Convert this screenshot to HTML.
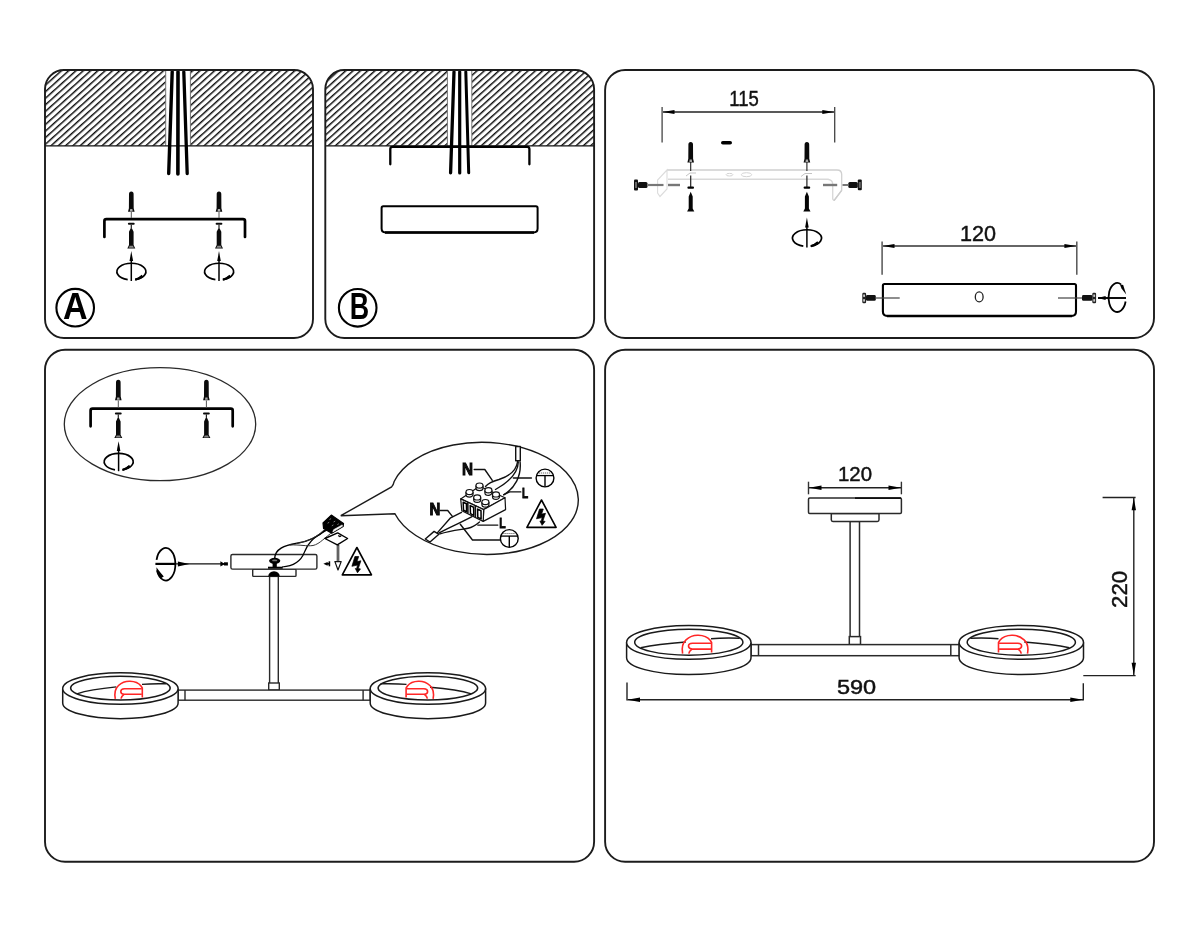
<!DOCTYPE html>
<html><head><meta charset="utf-8">
<style>
html,body{margin:0;padding:0;background:#fff;}
body{width:1200px;height:933px;overflow:hidden;font-family:"Liberation Sans",sans-serif;}
svg{display:block;position:absolute;left:0;top:0;will-change:transform;}
.f{fill:none;stroke:#1c1c1c;stroke-width:1.9;}
.k{fill:none;stroke:#000;}
.t{font-family:"Liberation Sans",sans-serif;fill:#111;stroke:#111;stroke-width:0.45;}
</style></head><body>
<svg width="1200" height="933" viewBox="0 0 1200 933">
<defs>
<pattern id="h" patternUnits="userSpaceOnUse" width="20" height="4.88" patternTransform="translate(46.5 70) rotate(-42)">
<rect x="0" y="0" width="20" height="1.45" fill="#0a0a0a"/>
</pattern>
<clipPath id="ca"><rect x="45" y="70" width="268" height="268" rx="19"/></clipPath>
<clipPath id="cb"><rect x="325.3" y="70" width="268.8" height="268" rx="19"/></clipPath>
<!-- plug (wall anchor) pointing up: origin at centre-x, top y=0, total height ~20 -->
<g id="plug">
<path d="M-2.3,2 Q-2.3,-0.6 0,-0.6 Q2.3,-0.6 2.3,2 L2.4,16.2 L3.3,19.8 L-3.3,19.8 L-2.4,16.2 Z" fill="#0a0a0a"/>
<path d="M-1.1,17 L1.1,17 L1.4,19.4 L-1.4,19.4Z" fill="#aaa"/>
</g>
<!-- screw, head at bottom: origin centre-x, y=0 top of washer -->
<g id="scr">
<rect x="-3.4" y="-1" width="6.8" height="2" rx="1" fill="#0a0a0a"/>
<rect x="-0.6" y="1" width="1.2" height="4" fill="#222"/>
<path d="M-0.7,4.6 L0.7,4.6 L2.3,8 L2.3,21.3 L4,24.6 L-4,24.6 L-2.3,21.3 L-2.3,8 Z" fill="#0a0a0a"/>
<path d="M-1.6,22 L1.6,22 L2.6,24 L-2.6,24 Z" fill="#888"/>
</g>
<!-- rotate-arrow (vertical shaft up through horizontal ellipse). origin = ellipse centre -->
<g id="rot">
<path d="M3.8,8.2 A14.5,8.3 0 1 0 -3.6,8.2" fill="none" stroke="#000" stroke-width="1.7"/>
<path d="M3.2,8.9 L10.5,3.4 L11.8,6.2 Z" fill="#000"/>
<path d="M4,8.3 Q9,7 11.3,4.6" fill="none" stroke="#000" stroke-width="2.4"/>
<line x1="0" y1="-14" x2="0" y2="9.6" stroke="#000" stroke-width="1.5"/>
<path d="M0,-20.3 L1.8,-10.5 L-1.8,-10.5 Z" fill="#000"/>
</g>

<!-- warning triangle: origin apex, height 27.5, half-base 14.6 -->
<g id="warn">
<path d="M0,0 L14.6,27.4 L-14.6,27.4 Z" fill="#fff" stroke="#000" stroke-width="1.6" stroke-linejoin="round"/>
<path d="M-2,9 L1.8,9 L0.1,14.1 L4,13.3 L1.4,21 L3.6,21.4 L0.6,25.3 L-1.6,21 L-0.3,21.2 L0.6,17.6 L-5,18.8 Z" fill="#000" stroke="#000" stroke-width="0.7" stroke-linejoin="round"/>
</g>
<!-- earth symbol in circle: origin centre, r=9 -->
<g id="earth">
<circle cx="0" cy="0" r="8.9" fill="#fff" stroke="#000" stroke-width="1.4"/>
<line x1="-8.3" y1="-2.4" x2="8.3" y2="-2.4" stroke="#000" stroke-width="1.3"/>
<line x1="-6" y1="-5" x2="6" y2="-5" stroke="#555" stroke-width="0.9" stroke-dasharray="1.2 0.8"/>
<line x1="0" y1="-2.4" x2="0" y2="8.6" stroke="#000" stroke-width="1.4"/>
</g>
<!-- lamp ring: origin = centre of top ellipse -->
<g id="ring">
<path d="M-57.7,0 L-57.7,14.3 A57.7,15.75 0 0 0 0,30.05 A57.7,15.75 0 0 0 57.7,14.3 L57.7,0" fill="#fff" stroke="#1a1a1a" stroke-width="1.5"/>
<ellipse cx="0" cy="0" rx="57.7" ry="15.75" fill="#fff" stroke="#1a1a1a" stroke-width="1.5"/>
<ellipse cx="0" cy="-0.5" rx="49.8" ry="11.9" fill="#fff" stroke="#1a1a1a" stroke-width="1.5"/>
</g>

<g id="ringE">
<path d="M-62.2,0 L-62.2,15.3 A62.2,16.9 0 0 0 0,32.2 A62.2,16.9 0 0 0 62.2,15.3 L62.2,0" fill="#fff" stroke="#1a1a1a" stroke-width="1.5"/>
<ellipse cx="0" cy="0" rx="62.2" ry="16.9" fill="#fff" stroke="#1a1a1a" stroke-width="1.5"/>
<ellipse cx="0" cy="-0.2" rx="54.1" ry="13" fill="#fff" stroke="#1a1a1a" stroke-width="1.5"/>
</g>
</defs>

<!-- ============ PANEL A ============ -->
<g id="panelA">
<g clip-path="url(#ca)">
<rect x="45" y="70" width="268" height="75.8" fill="url(#h)"/>
<rect x="165.5" y="70" width="25" height="75.8" fill="#fff"/>
<line x1="165.7" y1="70" x2="165.7" y2="145.8" stroke="#666" stroke-width="0.9"/>
<line x1="190.4" y1="70" x2="190.4" y2="145.8" stroke="#666" stroke-width="0.9"/>
</g>
<line x1="45" y1="145.9" x2="313" y2="145.9" stroke="#111" stroke-width="1.3"/>
<path d="M172.2,71.8 L168.7,173.5" stroke="#000" stroke-width="3.4" fill="none" stroke-linecap="round"/>
<path d="M178,71.8 L177.9,174" stroke="#000" stroke-width="3.6" fill="none" stroke-linecap="round"/>
<path d="M183.8,71.8 L187.2,173.5" stroke="#000" stroke-width="3.3" fill="none" stroke-linecap="round"/>
<rect class="f" x="45" y="70" width="268" height="268" rx="19"/>
<!-- bracket -->
<path d="M104.4,237 L104.4,221 Q104.4,219.1 106.4,219.1 L243,219.1 Q245,219.1 245,221 L245,237" class="k" stroke-width="2.7" stroke-linecap="round"/>
<use href="#plug" x="131.3" y="192"/>
<use href="#plug" x="219" y="192"/>
<line x1="131.3" y1="212" x2="131.3" y2="218" stroke="#555" stroke-width="1"/>
<line x1="219" y1="212" x2="219" y2="218" stroke="#555" stroke-width="1"/>
<use href="#scr" x="131.3" y="223.8"/>
<use href="#scr" x="219" y="223.8"/>
<use href="#rot" x="131.3" y="271.4"/>
<use href="#rot" x="219" y="271.4"/>
<!-- circled A -->
<circle cx="75.2" cy="307.7" r="18.8" fill="none" stroke="#000" stroke-width="2.1"/>
<text x="75.3" y="318.9" font-family="Liberation Sans" font-weight="bold" font-size="36.6" text-anchor="middle" textLength="24.6" lengthAdjust="spacingAndGlyphs" fill="#000">A</text>
</g>

<!-- ============ PANEL B ============ -->
<g id="panelB">
<g clip-path="url(#cb)">
<rect x="325.3" y="70" width="268.8" height="75.8" fill="url(#h)"/>
<rect x="447.2" y="70" width="24.8" height="75.8" fill="#fff"/>
<line x1="447.4" y1="70" x2="447.4" y2="145.8" stroke="#666" stroke-width="0.9"/>
<line x1="471.8" y1="70" x2="471.8" y2="145.8" stroke="#666" stroke-width="0.9"/>
</g>
<line x1="325.3" y1="145.9" x2="594.1" y2="145.9" stroke="#111" stroke-width="1.3"/>
<path d="M390.3,164.3 L390.3,149 Q390.3,146.8 392.5,146.8 L527.2,146.8 Q529.4,146.8 529.4,149 L529.4,164.3" class="k" stroke-width="2.3" stroke-linecap="round"/>
<path d="M454,71.8 L450.6,172.8" stroke="#000" stroke-width="3.3" fill="none" stroke-linecap="round"/>
<path d="M459.7,71.8 L459.7,173" stroke="#000" stroke-width="3.2" fill="none" stroke-linecap="round"/>
<path d="M465.8,71.8 L468.7,172.8" stroke="#000" stroke-width="3" fill="none" stroke-linecap="round"/>
<rect class="f" x="325.3" y="70" width="268.8" height="268" rx="19"/>
<!-- canopy -->
<path d="M383.3,206.2 L535.9,206.2 Q537.6,206.2 537.6,208 L537.6,228.5 Q537.6,232.4 533.6,232.4 L385.6,232.4 Q381.6,232.4 381.6,228.5 L381.6,208 Q381.6,206.2 383.3,206.2 Z" class="k" stroke-width="2" />
<line x1="385" y1="232.6" x2="534" y2="232.6" stroke="#000" stroke-width="2.5"/>
<!-- circled B -->
<circle cx="357.7" cy="307.8" r="18.8" fill="none" stroke="#000" stroke-width="2.1"/>
<text x="359.4" y="318.9" font-family="Liberation Sans" font-weight="bold" font-size="36" text-anchor="middle" textLength="19.4" lengthAdjust="spacingAndGlyphs" fill="#000">B</text>
</g>

<!-- ============ PANEL C ============ -->
<g id="panelC">
<rect class="f" x="605.1" y="70" width="548.9" height="268" rx="20"/>
<!-- dimension 115 -->
<line x1="662.1" y1="106.9" x2="662.1" y2="142.6" stroke="#444" stroke-width="1.3"/>
<line x1="834.7" y1="106.9" x2="834.7" y2="142.6" stroke="#444" stroke-width="1.3"/>
<line x1="663" y1="112" x2="834" y2="112" stroke="#222" stroke-width="1.3"/>
<path d="M662.6,112 L674.5,110 L674.5,114 Z M834.2,112 L822.3,110 L822.3,114 Z" fill="#000"/>
<text class="t" x="744" y="105.6" font-size="22" text-anchor="middle" textLength="29.5" lengthAdjust="spacingAndGlyphs">115</text>
<!-- pill -->
<rect x="721" y="141" width="11" height="3.6" rx="1.8" fill="#000"/>
<!-- light bracket -->
<g fill="none" stroke="#cdcdcd" stroke-width="1.4">
<path d="M667,170 L837,170 Q841.7,170 841.7,174.5 L841.7,190.3 L834,200.6" stroke="#d0d0d0" stroke-width="1.3"/>
<path d="M668,179.3 L828,179.3 Q832.5,180 832.7,184 L832.7,199 L834,200.6" stroke="#d9d9d9"/>
<path d="M667,170 L657.6,180 L657.6,193 L660,196.5 L667,189 Z" stroke="#dcdcdc" stroke-width="1.1"/>
<path d="M841.7,190.3 L834,200.6" />
<ellipse cx="729.5" cy="174.7" rx="3.4" ry="1.3" stroke="#d4d4d4" stroke-width="1"/>
<ellipse cx="746.5" cy="174.7" rx="5.2" ry="2" stroke="#d4d4d4" stroke-width="1"/>
<path d="M686,176 L690,173 L696,173 M801,176.5 L805,173.5 L812,173.5" stroke="#c4c4c4" stroke-width="1"/>
</g>
<!-- vertical plug/screw sets -->
<use href="#plug" x="690.7" y="142.6" transform=""/>
<use href="#plug" x="806.9" y="142.6"/>
<line x1="690.7" y1="162" x2="690.7" y2="171" stroke="#222" stroke-width="1.1"/>
<line x1="690.7" y1="175.5" x2="690.7" y2="187" stroke="#222" stroke-width="1.2"/>
<line x1="806.9" y1="162" x2="806.9" y2="171" stroke="#222" stroke-width="1.1"/>
<line x1="806.9" y1="175.5" x2="806.9" y2="187" stroke="#222" stroke-width="1.2"/>
<rect x="687.4" y="186.6" width="6.6" height="2.2" rx="1" fill="#000"/>
<rect x="803.6" y="186.6" width="6.6" height="2.2" rx="1" fill="#000"/>
<g id="lscr">
<path d="M690.7,191.8 L692.7,196.5 L692.7,208.6 L694.3,211.4 L687.1,211.4 L688.7,208.6 L688.7,196.5 Z" fill="#050505"/>
</g>
<path d="M806.9,191.8 L808.9,196.5 L808.9,208.6 L810.5,211.4 L803.3,211.4 L804.9,208.6 L804.9,196.5 Z" fill="#050505"/>
<use href="#rot" x="806.9" y="237.9"/>
<!-- side screws -->
<g>
<rect x="634" y="179.6" width="4" height="10.8" rx="1" fill="#111"/>
<rect x="635" y="182" width="2" height="6" fill="#666"/>
<rect x="638" y="182" width="9.5" height="6" rx="1.5" fill="#111"/>
<line x1="647.5" y1="185" x2="663.5" y2="185" stroke="#777" stroke-width="2.2"/>
<line x1="668" y1="185" x2="680" y2="185" stroke="#777" stroke-width="2.4"/>
</g>
<g>
<rect x="857.8" y="179.5" width="4" height="10.8" rx="1" fill="#111"/>
<rect x="858.8" y="182" width="2" height="6" fill="#666"/>
<rect x="848.3" y="182" width="9.5" height="6" rx="1.5" fill="#111"/>
<line x1="842.5" y1="185" x2="848.3" y2="185" stroke="#777" stroke-width="2"/>
<line x1="823" y1="185" x2="837.2" y2="185" stroke="#777" stroke-width="2.4"/>
</g>
<!-- dimension 120 -->
<line x1="882.1" y1="241.5" x2="882.1" y2="274.8" stroke="#555" stroke-width="1.5"/>
<line x1="1076.8" y1="241.5" x2="1076.8" y2="274.8" stroke="#555" stroke-width="1.5"/>
<line x1="883" y1="246" x2="1076" y2="246" stroke="#333" stroke-width="1.3"/>
<path d="M882.6,246 L894.5,244 L894.5,248 Z M1076.3,246 L1064.4,244 L1064.4,248 Z" fill="#000"/>
<text class="t" x="978" y="240.7" font-size="21.5" text-anchor="middle" textLength="36" lengthAdjust="spacingAndGlyphs">120</text>
<!-- box -->
<path d="M884.5,284 L1074.4,284 Q1076,284 1076,285.6 L1076,311.5 Q1076,315.9 1071.6,315.9 L887.3,315.9 Q882.9,315.9 882.9,311.5 L882.9,285.6 Q882.9,284 884.5,284 Z" fill="none" stroke="#000" stroke-width="2.1"/>
<line x1="887" y1="316.1" x2="1072" y2="316.1" stroke="#000" stroke-width="2.4"/>
<ellipse cx="979.2" cy="296.9" rx="3.9" ry="5" fill="none" stroke="#222" stroke-width="1.3"/>
<!-- box screws -->
<rect x="862.3" y="292.7" width="3.8" height="10.6" rx="1.2" fill="#222"/>
<rect x="863.2" y="294.5" width="1.8" height="2.4" fill="#ccc"/><rect x="863.2" y="299.2" width="1.8" height="2.4" fill="#ccc"/>
<rect x="866" y="295" width="9.8" height="5.8" rx="1.4" fill="#111"/>
<line x1="875.7" y1="298" x2="899.7" y2="298" stroke="#444" stroke-width="1.2"/>
<line x1="1058" y1="298" x2="1082" y2="298" stroke="#444" stroke-width="1.2"/>
<rect x="1082" y="295" width="10.4" height="5.8" rx="1.4" fill="#111"/>
<rect x="1092.3" y="292.7" width="3.8" height="10.6" rx="1.2" fill="#222"/>
<rect x="1093.3" y="294.5" width="1.8" height="2.4" fill="#ccc"/><rect x="1093.3" y="299.2" width="1.8" height="2.4" fill="#ccc"/>
<!-- rotate symbol (horizontal axis) -->
<line x1="1098" y1="298" x2="1126" y2="298" stroke="#000" stroke-width="1.9"/>
<path d="M1097.6,298 L1105.6,296 L1105.6,300 Z" fill="#000"/>
<path d="M1125.6,301.5 A8.7,14.5 0 1 1 1121,284.4" fill="none" stroke="#000" stroke-width="1.8"/>
<path d="M1119.8,284.2 L1123.2,285 L1126.2,294.6 L1121.5,288.5 Z" fill="#000"/>
</g>

<!-- ============ PANEL D ============ -->
<g id="panelD">
<rect class="f" x="45" y="349.8" width="549.1" height="511.9" rx="20"/>
<!-- inset ellipse with bracket -->
<ellipse cx="160" cy="424.2" rx="95.7" ry="56.5" fill="none" stroke="#2a2a2a" stroke-width="1.3"/>
<path d="M90.6,426.3 L90.6,410.6 Q90.6,408.7 92.5,408.7 L230.8,408.7 Q232.7,408.7 232.7,410.6 L232.7,426.3" class="k" stroke-width="2.7" stroke-linecap="round"/>
<use href="#plug" x="118.3" y="380.4"/>
<use href="#plug" x="206.4" y="380.4"/>
<line x1="118.3" y1="400.5" x2="118.3" y2="407.5" stroke="#555" stroke-width="1"/>
<line x1="206.4" y1="400.5" x2="206.4" y2="407.5" stroke="#555" stroke-width="1"/>
<use href="#scr" x="118.3" y="413.4"/>
<use href="#scr" x="206.4" y="413.4"/>
<use href="#rot" x="118.6" y="461.6"/>

<!-- speech balloon -->
<path d="M391.6,486.9 Q393.6,484.6 394.3,481.2 A93.9,56 1.5 1 1 394.9,513.7 L340.8,515.7 Z" fill="#fff" stroke="#1a1a1a" stroke-width="1.4" stroke-linejoin="miter"/>
<!-- balloon contents -->
<g fill="none" stroke="#111" stroke-width="1.4" stroke-linecap="round" stroke-linejoin="round">
<!-- upper cable -->
<rect x="515.7" y="446.5" width="4.6" height="14.2" fill="#fff"/>
<path d="M517.6,461.5 C516.5,470 510,476 499,479.5 C492,481.5 488,483.5 485.5,486.5"/>
<path d="M518.3,462 C518,473 509,482 495.5,489.5"/>
<path d="M520.1,462 C521.5,476 515,488 503.7,494.8"/>
<!-- lower cable -->
<path d="M425.3,539 L434.1,531.4 L438.9,534.3 L430,542 Z" fill="#fff"/>
<path d="M437.5,532.6 L450.6,517.8 L461.5,512.3"/>
<path d="M438.9,533.1 C446,529 458,524 472,516.6"/>
<path d="M440,533.9 C450,530.5 462,529.5 468,528.3 C473,527.3 476,525 479.5,522"/>
<!-- leaders -->
<path d="M474.2,469.5 L484.8,469.5 L492.3,480.3"/>
<path d="M520.8,491.9 L509.6,491.9 L503.9,494.6"/>
<path d="M531.4,478 L513.4,478"/>
<path d="M440.2,510.5 L447.7,510.5 L452.4,516.4"/>
<path d="M497.8,525.1 L477.8,525.1"/>
<path d="M500,540 L472.5,540 L460.3,524.3"/>
</g>
<!-- terminal block -->
<g stroke="#111" stroke-width="1.2" stroke-linejoin="round">
<path d="M460.7,498.9 L479.5,486.3 L505,497.8 L483.7,509.6 Z" fill="#fff"/>
<path d="M483.7,509.6 L505,497.8 L505.6,509.6 L483.2,521.4 Z" fill="#fff"/>
<path d="M460.7,498.9 L483.7,509.6 L483.2,521.4 L461.8,510.7 Z" fill="#fff"/>
<path d="M463.2,502.3 L466.4,503.8 L466.6,511.7 L463.5,510.2 Z M470.2,505.6 L473.6,507.2 L473.8,515.3 L470.5,513.7 Z M477.6,509.1 L481,510.7 L481.1,518.9 L477.8,517.3 Z" fill="#fff" stroke="#000" stroke-width="1.5"/>
<path d="M467.8,502.2 L467.9,513.6 M475.3,505.7 L475.4,517.3" stroke-width="1.6"/>
<g fill="#fff" stroke-width="1.2">
<path d="M476.0,485.6 v2.4 a3.5,2.6 0 0 0 7,0 v-2.4"/><ellipse cx="479.5" cy="485.6" rx="3.5" ry="2.6"/>
<path d="M466.0,492.1 v2.4 a3.5,2.6 0 0 0 7,0 v-2.4"/><ellipse cx="469.5" cy="492.1" rx="3.5" ry="2.6"/>
<path d="M484.9,490.3 v2.4 a3.5,2.6 0 0 0 7,0 v-2.4"/><ellipse cx="488.4" cy="490.3" rx="3.5" ry="2.6"/>
<path d="M473.7,497.4 v2.4 a3.5,2.6 0 0 0 7,0 v-2.4"/><ellipse cx="477.2" cy="497.4" rx="3.5" ry="2.6"/>
<path d="M492.5,494.4 v2.4 a3.5,2.6 0 0 0 7,0 v-2.4"/><ellipse cx="496" cy="494.4" rx="3.5" ry="2.6"/>
<path d="M481.9,502.1 v2.4 a3.5,2.6 0 0 0 7,0 v-2.4"/><ellipse cx="485.4" cy="502.1" rx="3.5" ry="2.6"/>
</g>
</g>
<text class="t" x="467.5" y="474.8" font-size="16" font-weight="bold" text-anchor="middle" textLength="11" lengthAdjust="spacingAndGlyphs" fill="#000" style="stroke:#000;stroke-width:0.9">N</text>
<text class="t" x="434.8" y="514.9" font-size="16" font-weight="bold" text-anchor="middle" textLength="10.8" lengthAdjust="spacingAndGlyphs" fill="#000" style="stroke:#000;stroke-width:0.9">N</text>
<text class="t" x="525" y="497.8" font-size="15" font-weight="bold" text-anchor="middle" textLength="6.2" lengthAdjust="spacingAndGlyphs" fill="#000" style="stroke:#000;stroke-width:0.8">L</text>
<text class="t" x="502.4" y="527.8" font-size="15" font-weight="bold" text-anchor="middle" textLength="6.4" lengthAdjust="spacingAndGlyphs" fill="#000" style="stroke:#000;stroke-width:0.8">L</text>
<use href="#earth" x="545" y="478"/>
<use href="#earth" x="509.3" y="538.5"/>
<use href="#warn" x="541.5" y="500"/>

<!-- rotate symbol + arrow to canopy -->
<path d="M156.56,559.8 A9.6,16.25 0 1 1 156.9,570.4" fill="none" stroke="#000" stroke-width="1.8"/>
<path d="M156.4,567.2 L156.6,570 L158,574.4 L160.6,578.6 L163.8,576.6 L160.4,572.6 Z" fill="#000"/>
<line x1="155.4" y1="563.9" x2="176" y2="563.9" stroke="#000" stroke-width="2.2"/>
<line x1="176" y1="563.9" x2="226" y2="563.9" stroke="#111" stroke-width="1.4"/>
<path d="M177.9,561.4 L189.4,563.9 L177.9,566.4 Z" fill="#000"/>
<path d="M220.4,561.3 L225,563.9 L220.4,566.5 Z" fill="#000"/><rect x="224" y="562.3" width="3.9" height="3.2" fill="#000"/>

<!-- fixture -->
<g fill="#fff" stroke="#2a2a2a" stroke-width="1.4">
<rect x="269.6" y="576.4" width="8.7" height="113.5"/>
<rect x="268.7" y="683" width="10.6" height="7"/>
<rect x="178" y="690.1" width="192.3" height="10.1"/>
<line x1="185" y1="690.1" x2="185" y2="700.2"/><line x1="363.1" y1="690.1" x2="363.1" y2="700.2"/>
<rect x="252.7" y="569.1" width="43.3" height="7.3" rx="0.8"/>
<rect x="230.9" y="554.5" width="86" height="14.6" rx="1.6"/>
</g>
<use href="#ring" x="120.4" y="688.6"/>
<use href="#ring" x="427.9" y="688.6"/>
<!-- inner back-wall curves -->
<path d="M166.3,683.8 C158,683.6 148,683.8 142,684.4 M116.3,686.9 C100,688.5 86,690.8 76.9,693.8" fill="none" stroke="#1a1a1a" stroke-width="1.4"/>
<path d="M380.6,683.8 C390,683.6 400,683.8 406.5,684.4 M430,687.3 C448,688.7 462,690.8 471.3,693.8" fill="none" stroke="#1a1a1a" stroke-width="1.4"/>
<!-- red lamps -->
<g fill="none" stroke="#ff2626" stroke-width="1.6">
<path d="M115.3,698.9 Q113.6,690 118.5,685.5 Q123.5,681 130,681.3 Q137.5,681.5 141,686 L142.3,688 L142.3,697.6"/>
<path d="M141.8,688.8 L124.5,688.8 Q120.8,689 120.8,691.4 Q120.8,693.8 124,694.3 L141.8,694.3"/>
<path d="M124,694.3 Q121.5,696 121,698.6"/>
<path d="M433.1,698.9 Q434.8,690 429.9,685.5 Q424.9,681 418.4,681.3 Q410.9,681.5 407.4,686 L406.1,688 L406.1,697.6"/>
<path d="M406.6,688.8 L423.9,688.8 Q427.6,689 427.6,691.4 Q427.6,693.8 424.4,694.3 L406.6,694.3"/>
<path d="M424.4,694.3 Q426.9,696 427.4,698.6"/>
</g>
<!-- nut, dome, wires -->
<path d="M268.2,576.4 Q268.6,571.4 274,571.2 Q279.4,571.4 279.8,576.4 Z" fill="#000"/>
<rect x="268" y="566.7" width="14.7" height="2" fill="#000"/>
<ellipse cx="274.7" cy="560.8" rx="5.6" ry="3" fill="#000"/>
<rect x="272.6" y="562" width="4.2" height="5" fill="#000"/>
<ellipse cx="274.7" cy="560.4" rx="2.6" ry="0.9" fill="#777"/>
<g fill="none" stroke="#000" stroke-width="1.2">
<path d="M274.7,558.5 C275,549 284,545.5 297,543.3 C309,541.3 318,537 326,529.5" stroke-width="1.5"/>
<path d="M282,567 C296,566 301.5,560 304.5,552 C307.5,544 312,538 327.5,529.8"/>
<path d="M290,545 C300,544.5 307,546.5 313,545.5 C320,544 325,537 333.5,531.5" stroke="#333" stroke-width="1"/>
<path d="M296,543.6 C304,542 314,539.5 324,530" stroke="#333" stroke-width="0.9"/>
</g>
<!-- connector block -->
<path d="M331.3,515.1 L343.5,523.4 L343.1,526.6 L331.7,533.2 L323.6,528.6 L323,523 Z" fill="#000" stroke="#000" stroke-width="1.2" stroke-linejoin="round"/>
<path d="M333.6,529.7 L342.2,524.9 L342.4,526.3 L332.8,531.9 Z" fill="#fff" stroke="#fff" stroke-width="0.6" stroke-linejoin="round"/>
<path d="M329.5,519.5 l1.6,-0.9 M333.6,522 l1.6,-0.9 M327.6,523.2 l1.6,-0.9 M331.8,525.8 l1.6,-0.9 M337.4,524.6 l1.4,-0.8" stroke="#999" stroke-width="0.8" fill="none"/>
<!-- tag + arrow -->
<path d="M324.9,538.5 L337.7,532.9 L347.6,538.5 L337.3,544.9 Z" fill="#fff" stroke="#000" stroke-width="1.4" stroke-linejoin="round"/>
<path d="M338.2,535.4 l1.6,1.2 l1.4,-0.7" fill="none" stroke="#000" stroke-width="1.2"/>
<line x1="338" y1="545" x2="338" y2="561.4" stroke="#333" stroke-width="2.6"/>
<line x1="338" y1="546" x2="338" y2="561" stroke="#bbb" stroke-width="0.7"/>
<path d="M334.9,561.6 L341.2,561.6 L338,570 Z" fill="#fff" stroke="#111" stroke-width="1.2" stroke-linejoin="round"/>
<path d="M323.4,563.8 L327.6,561.9 L327.6,565.7 Z" fill="#000"/><rect x="327" y="562.9" width="2" height="1.8" fill="#000"/><rect x="328.6" y="561.3" width="1.6" height="5" fill="#000"/>
<use href="#warn" x="356.9" y="547.5"/>
</g>

<!-- ============ PANEL E ============ -->
<g id="panelE">
<rect class="f" x="605.1" y="349.8" width="548.9" height="511.9" rx="20"/>
<!-- dimension 120 -->
<line x1="808.5" y1="481.7" x2="808.5" y2="494.3" stroke="#333" stroke-width="1.4"/>
<line x1="901.4" y1="481.7" x2="901.4" y2="494.3" stroke="#333" stroke-width="1.4"/>
<line x1="809" y1="487.7" x2="901" y2="487.7" stroke="#222" stroke-width="1.4"/>
<path d="M809,487.7 L821.5,485.5 L821.5,489.9 Z M901,487.7 L888.5,485.5 L888.5,489.9 Z" fill="#000"/>
<text class="t" x="855" y="481" font-size="20.3" text-anchor="middle" textLength="34" lengthAdjust="spacingAndGlyphs">120</text>
<!-- fixture -->
<g fill="#fff" stroke="#2a2a2a" stroke-width="1.5">
<rect x="850.1" y="521.4" width="9.4" height="123"/>
<rect x="849.3" y="636.6" width="11.2" height="8"/>
<rect x="751" y="644.6" width="208.4" height="11.1"/>
<line x1="758.5" y1="644.6" x2="758.5" y2="655.7"/><line x1="950.8" y1="644.6" x2="950.8" y2="655.7"/>
<path d="M831.3,513.4 L879,513.4 L879,519.8 Q879,521.4 877.4,521.4 L832.9,521.4 Q831.3,521.4 831.3,519.8 Z"/>
<rect x="808.5" y="498.1" width="92.9" height="15.3" rx="1.2"/>
</g>
<line x1="855" y1="498.1" x2="901" y2="498.1" stroke="#111" stroke-width="1.7"/>
<use href="#ringE" x="688.8" y="642.4"/>
<use href="#ringE" x="1021.3" y="642.4"/>
<path d="M739.8,638.2 C730,637.9 718,638.1 711,638.7 M685.8,642 C668,643.3 652,645.2 640.8,647.7" fill="none" stroke="#1a1a1a" stroke-width="1.4"/>
<path d="M970.3,638.2 C980,637.9 992,638.1 998.5,638.7 M1024.3,642 C1042,643.3 1058,645.2 1069.3,647.7" fill="none" stroke="#1a1a1a" stroke-width="1.4"/>
<g fill="none" stroke="#ff2626" stroke-width="1.6">
<path d="M682.6,653.6 Q680.9,644.5 686,639.8 Q691.4,635 698.3,635.3 Q706.3,635.5 710.2,640.3 L711.6,642.5 L711.6,652.5"/>
<path d="M711,643.2 L692.4,643.2 Q688.5,643.4 688.5,646 Q688.5,648.6 692,649.1 L711,649.1"/>
<path d="M692,649.1 Q689.3,651 688.8,653.6"/>
<path d="M1027.5,653.6 Q1029.2,644.5 1024.1,639.8 Q1018.7,635 1011.8,635.3 Q1003.8,635.5 999.9,640.3 L998.5,642.5 L998.5,652.5"/>
<path d="M999.1,643.2 L1017.7,643.2 Q1021.6,643.4 1021.6,646 Q1021.6,648.6 1018.1,649.1 L999.1,649.1"/>
<path d="M1018.1,649.1 Q1020.8,651 1021.3,653.6"/>
</g>
<!-- dimension 590 -->
<line x1="627" y1="682.5" x2="627" y2="700.6" stroke="#222" stroke-width="1.4"/>
<line x1="1083.3" y1="683.3" x2="1083.3" y2="700.6" stroke="#222" stroke-width="1.4"/>
<line x1="627.5" y1="699.8" x2="1083" y2="699.8" stroke="#222" stroke-width="1.4"/>
<path d="M627.3,699.8 L640,697.6 L640,702 Z M1083,699.8 L1070.3,697.6 L1070.3,702 Z" fill="#000"/>
<text class="t" x="856.6" y="694.4" font-size="20.7" text-anchor="middle" textLength="39.3" lengthAdjust="spacingAndGlyphs">590</text>
<!-- dimension 220 -->
<line x1="1102.6" y1="497.5" x2="1135.6" y2="497.5" stroke="#222" stroke-width="1.4"/>
<line x1="1083.3" y1="675.6" x2="1135.6" y2="675.6" stroke="#222" stroke-width="1.4"/>
<line x1="1133.8" y1="498" x2="1133.8" y2="675" stroke="#222" stroke-width="1.4"/>
<path d="M1133.8,497.8 L1131.6,510.3 L1136,510.3 Z M1133.8,675.3 L1131.6,662.8 L1136,662.8 Z" fill="#000"/>
<text class="t" x="0" y="0" font-size="21.5" text-anchor="middle" textLength="37" lengthAdjust="spacingAndGlyphs" transform="translate(1127.3 589.4) rotate(-90)">220</text>
</g>
</svg>
</body></html>
